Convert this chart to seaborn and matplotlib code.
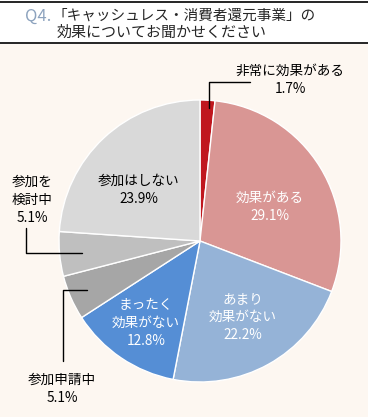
import matplotlib
matplotlib.use("Agg")
import matplotlib.pyplot as plt
import seaborn as sns

# データ
labels = ["非常に効果がある", "効果がある", "あまり\n効果がない", "まったく\n効果がない",
          "参加申請中", "参加を\n検討中", "参加はしない"]
values = [1.7, 29.1, 22.2, 12.8, 5.1, 5.1, 23.9]
colors = ["#C0171E", "#D99694", "#95B3D7", "#558ED5", "#A6A6A6", "#BFBFBF", "#D9D9D9"]
text_colors = ["black", "white", "white", "white", "black", "black", "black"]

sns.set_theme(style="white")
plt.rcParams["font.family"] = ["Noto Sans CJK JP", "DejaVu Sans"]

W, H = 368, 417
fig = plt.figure(figsize=(W / 100, H / 100), dpi=100)
fig.patch.set_facecolor("#FDF7F1")
ax = fig.add_axes([0, 0, 1, 1])


def Y(y):
    # 画像座標 -> 軸座標
    return H - y


# ヘッダー
ax.axhspan(Y(43), Y(0), color="white", zorder=0)
ax.plot([0, W], [Y(1.5), Y(1.5)], color="black", lw=1.2)
ax.plot([0, W], [Y(43), Y(43)], color="black", lw=1.2)
ax.text(25, Y(16), "Q4.", color="#8DA3BE", fontsize=12, va="center", ha="left")
ax.text(52, Y(16), "「キャッシュレス・消費者還元事業」の", fontsize=10.5, va="center", ha="left")
ax.text(57, Y(32.5), "効果についてお聞かせください", fontsize=10.8, va="center", ha="left")

# 円グラフ
ax.pie(values, colors=colors, startangle=90, counterclock=False,
       center=(200, Y(241)), radius=141, frame=True,
       wedgeprops=dict(edgecolor="white", linewidth=1))
ax.set_xlim(0, W)
ax.set_ylim(0, H)
ax.axis("off")

# ラベル位置 (画像座標)
label_pos = [(290, 80), (270, 207), (243, 317), (146, 323), (62, 389), (32, 200), (139, 190)]
for lab, v, tc, (x, y) in zip(labels, values, text_colors, label_pos):
    ax.text(x, Y(y), f"{lab}\n{v:.1f}%", color=tc, fontsize=9.8, ha="center", va="center",
            linespacing=1.35)

# 引き出し線
leaders = [
    [(250, 82), (209, 82), (209, 108)],
    [(26, 228), (26, 253), (82, 253)],
    [(63, 361), (63, 290), (87, 290)],
]
for pts in leaders:
    ax.plot([p[0] for p in pts], [Y(p[1]) for p in pts], color="black", lw=1)

fig.savefig("out.png", dpi=100, facecolor=fig.get_facecolor())
